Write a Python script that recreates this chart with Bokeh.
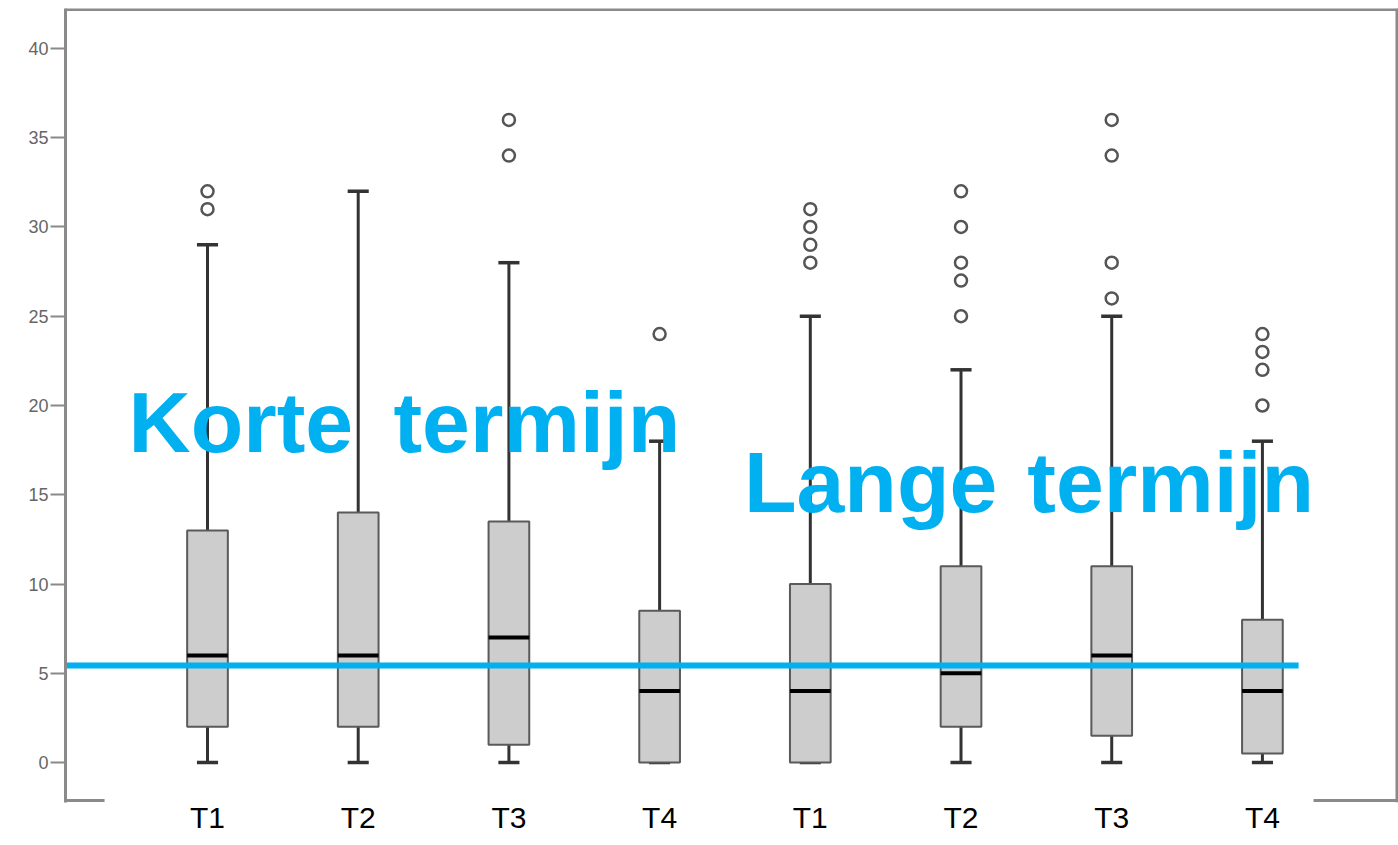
import numpy as np
from bokeh.plotting import figure
from bokeh.models import Range1d, FixedTicker, Span, Label
from bokeh.embed import file_html
from bokeh.resources import INLINE

# ---- data ----
labels = ["T1", "T2", "T3", "T4", "T1", "T2", "T3", "T4"]
whisker_low = [0, 0, 0, 0, 0, 0, 0, 0]
q1 = [2, 2, 1, 0, 0, 2, 1.5, 0.5]
median = [6, 6, 7, 4, 4, 5, 6, 4]
q3 = [13, 14, 13.5, 8.5, 10, 11, 11, 8]
whisker_high = [29, 32, 28, 18, 25, 22, 25, 18]
outliers = [
    [31, 32],
    [],
    [34, 36],
    [24],
    [28, 29, 30, 31],
    [25, 27, 28, 30, 32],
    [26, 28, 34, 36],
    [20, 22, 23, 24],
]
reference_level = 5.43
title_words = [["Korte", "termijn"], ["Lange", "termijn"]]
title_word_x = [[0.476, 2.234], [4.56, 6.44]]
title_y = [19.05, 15.69]

# ---- styling ----
CYAN = "#00b0f0"
FRAME = "#8a8a8a"
xs = np.arange(1, len(labels) + 1, dtype=float)
box_w = 0.27
cap_w = 0.14

x0, x1 = 0.0577, 8.903
y0, y1 = -2.24, 42.24

p = figure(width=1398, height=845, output_backend="svg", toolbar_location=None,
           x_range=Range1d(x0, x1), y_range=Range1d(y0, y1),
           min_border_left=65, min_border_right=0, min_border_top=8,
           min_border_bottom=43)
p.outline_line_color = None
p.grid.visible = False
p.background_fill_color = "white"
p.border_fill_color = "white"

# y axis
ya = p.yaxis[0]
ya.ticker = FixedTicker(ticks=list(range(0, 45, 5)))
ya.axis_line_color = FRAME
ya.axis_line_width = 3
ya.major_tick_line_color = FRAME
ya.major_tick_line_width = 2
ya.major_tick_out = 15
ya.major_tick_in = 0
ya.minor_tick_line_color = None
ya.major_label_text_font = "Liberation Sans"
ya.major_label_text_font_size = "18px"
ya.major_label_text_color = "#666666"
ya.major_label_standoff = 2

# x axis
xa = p.xaxis[0]
xa.ticker = FixedTicker(ticks=list(xs))
overrides = {float(x): l for x, l in zip(xs, labels)}
overrides.update({int(x): l for x, l in zip(xs, labels)})
xa.major_label_overrides = overrides
xa.axis_line_color = None
xa.major_tick_line_color = None
xa.minor_tick_line_color = None
xa.major_label_text_font = "Liberation Sans"
xa.major_label_text_font_size = "30px"
xa.major_label_text_color = "black"
xa.major_label_standoff = -8

# frame lines (top, right, bottom pieces)
p.add_layout(Span(location=y1 - 0.06, dimension="width", line_color=FRAME, line_width=3))
p.add_layout(Span(location=x1 - 0.01, dimension="height", line_color=FRAME, line_width=3))
p.segment(x0=[x0, 8.339], x1=[0.317, x1], y0=[-2.13, -2.13], y1=[-2.13, -2.13],
          line_color=FRAME, line_width=3)

# whiskers
p.segment(x0=xs, x1=xs, y0=q3, y1=whisker_high, line_color="#333333", line_width=3)
p.segment(x0=xs, x1=xs, y0=q1, y1=whisker_low, line_color="#333333", line_width=3)
p.segment(x0=xs - cap_w / 2, x1=xs + cap_w / 2, y0=whisker_high, y1=whisker_high,
          line_color="#333333", line_width=3.5)
p.segment(x0=xs - cap_w / 2, x1=xs + cap_w / 2, y0=whisker_low, y1=whisker_low,
          line_color="#333333", line_width=3.5)

# boxes
p.vbar(x=xs, width=box_w, bottom=q1, top=q3, fill_color="#cdcdcd",
       line_color="#5a5a5a", line_width=2)
p.segment(x0=xs - box_w / 2, x1=xs + box_w / 2, y0=median, y1=median,
          line_color="black", line_width=4)

# outliers
ox = [x for x, o in zip(xs, outliers) for _ in o]
oy = [v for o in outliers for v in o]
p.scatter(x=ox, y=oy, size=12, fill_color=None, line_color="#555555", line_width=2.5)

# reference line
p.segment(x0=[x0], x1=[8.24], y0=[reference_level], y1=[reference_level],
          line_color=CYAN, line_width=6)

# group titles
for words, wx, wy in zip(title_words, title_word_x, title_y):
    for w, x in zip(words, wx):
        p.add_layout(Label(x=x, y=wy, text=w, text_font="Liberation Sans",
                           text_font_style="bold", text_font_size="86px",
                           text_color=CYAN, text_baseline="alphabetic"))

open("out.html", "w").write(file_html(p, INLINE))
